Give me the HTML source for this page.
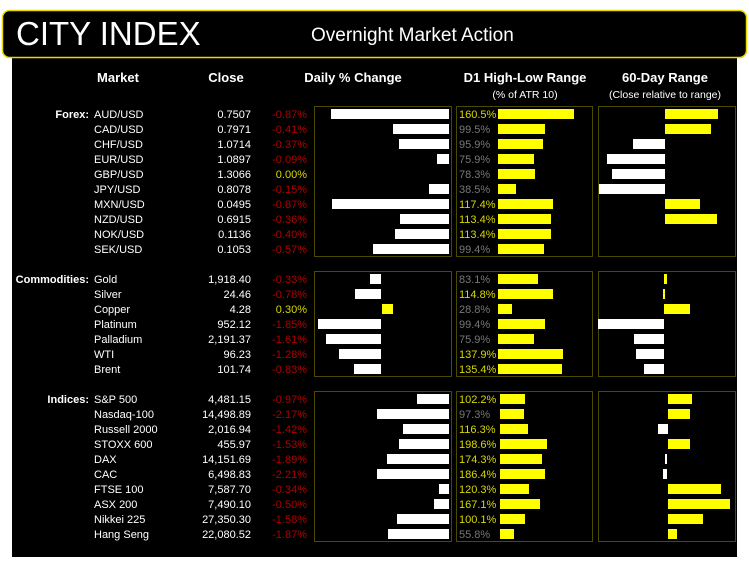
<!DOCTYPE html>
<html><head><meta charset="utf-8"><style>
html,body{margin:0;padding:0;background:#fff;width:749px;height:568px;overflow:hidden}
svg{display:block;font-family:"Liberation Sans",sans-serif}
.t{fill:#fff;font-size:11px}
.b{fill:#fff;font-size:11px;font-weight:bold}
.r{fill:#b00000;font-size:11px}
.y{fill:#d8d800;font-size:11px}
.g{fill:#777;font-size:11px}
.h{fill:#fff;font-size:13px;font-weight:bold}
.s{fill:#fff;font-size:10.5px}
</style></head><body>
<svg width="749" height="568" xmlns="http://www.w3.org/2000/svg">
<rect x="12" y="56" width="725" height="501" fill="#000"/>
<rect x="2.5" y="10.5" width="744" height="47" rx="7" fill="#000" stroke="#e6d800" stroke-width="1.5"/>
<text x="16" y="45" fill="#fff" font-size="33" style="font-weight:300">CITY INDEX</text>
<text x="311" y="41" fill="#fff" font-size="19">Overnight Market Action</text>

<text class="h" x="118" y="82" text-anchor="middle">Market</text>
<text class="h" x="226" y="82" text-anchor="middle">Close</text>
<text class="h" x="353" y="82" text-anchor="middle">Daily % Change</text>
<text class="h" x="525" y="82" text-anchor="middle">D1 High-Low Range</text>
<text class="s" x="525" y="98" text-anchor="middle">(% of ATR 10)</text>
<text class="h" x="665" y="82" text-anchor="middle">60-Day Range</text>
<text class="s" x="665" y="98" text-anchor="middle">(Close relative to range)</text>

<g fill="none" stroke="#4d4a00" stroke-width="1">
<rect x="314.5" y="106.5" width="137" height="150"/>
<rect x="456.5" y="106.5" width="136" height="150"/>
<rect x="598.5" y="106.5" width="137" height="150"/>
<rect x="314.5" y="271.5" width="137" height="105"/>
<rect x="456.5" y="271.5" width="136" height="105"/>
<rect x="598.5" y="271.5" width="137" height="105"/>
<rect x="314.5" y="391.5" width="137" height="150"/>
<rect x="456.5" y="391.5" width="136" height="150"/>
<rect x="598.5" y="391.5" width="137" height="150"/>
</g>

<text class="b" x="89" y="118" text-anchor="end">Forex:</text>
<text class="b" x="89" y="283" text-anchor="end">Commodities:</text>
<text class="b" x="89" y="403" text-anchor="end">Indices:</text>

<g id="names">
<text class="t" x="94" y="118">AUD/USD</text>
<text class="t" x="94" y="133">CAD/USD</text>
<text class="t" x="94" y="148">CHF/USD</text>
<text class="t" x="94" y="163">EUR/USD</text>
<text class="t" x="94" y="178">GBP/USD</text>
<text class="t" x="94" y="193">JPY/USD</text>
<text class="t" x="94" y="208">MXN/USD</text>
<text class="t" x="94" y="223">NZD/USD</text>
<text class="t" x="94" y="238">NOK/USD</text>
<text class="t" x="94" y="253">SEK/USD</text>
<text class="t" x="94" y="283">Gold</text>
<text class="t" x="94" y="298">Silver</text>
<text class="t" x="94" y="313">Copper</text>
<text class="t" x="94" y="328">Platinum</text>
<text class="t" x="94" y="343">Palladium</text>
<text class="t" x="94" y="358">WTI</text>
<text class="t" x="94" y="373">Brent</text>
<text class="t" x="94" y="403">S&amp;P 500</text>
<text class="t" x="94" y="418">Nasdaq-100</text>
<text class="t" x="94" y="433">Russell 2000</text>
<text class="t" x="94" y="448">STOXX 600</text>
<text class="t" x="94" y="463">DAX</text>
<text class="t" x="94" y="478">CAC</text>
<text class="t" x="94" y="493">FTSE 100</text>
<text class="t" x="94" y="508">ASX 200</text>
<text class="t" x="94" y="523">Nikkei 225</text>
<text class="t" x="94" y="538">Hang Seng</text>
</g>
<g text-anchor="end">
<text class="t" x="251" y="118">0.7507</text>
<text class="t" x="251" y="133">0.7971</text>
<text class="t" x="251" y="148">1.0714</text>
<text class="t" x="251" y="163">1.0897</text>
<text class="t" x="251" y="178">1.3066</text>
<text class="t" x="251" y="193">0.8078</text>
<text class="t" x="251" y="208">0.0495</text>
<text class="t" x="251" y="223">0.6915</text>
<text class="t" x="251" y="238">0.1136</text>
<text class="t" x="251" y="253">0.1053</text>
<text class="t" x="251" y="283">1,918.40</text>
<text class="t" x="251" y="298">24.46</text>
<text class="t" x="251" y="313">4.28</text>
<text class="t" x="251" y="328">952.12</text>
<text class="t" x="251" y="343">2,191.37</text>
<text class="t" x="251" y="358">96.23</text>
<text class="t" x="251" y="373">101.74</text>
<text class="t" x="251" y="403">4,481.15</text>
<text class="t" x="251" y="418">14,498.89</text>
<text class="t" x="251" y="433">2,016.94</text>
<text class="t" x="251" y="448">455.97</text>
<text class="t" x="251" y="463">14,151.69</text>
<text class="t" x="251" y="478">6,498.83</text>
<text class="t" x="251" y="493">7,587.70</text>
<text class="t" x="251" y="508">7,490.10</text>
<text class="t" x="251" y="523">27,350.30</text>
<text class="t" x="251" y="538">22,080.52</text>

<text class="r" x="307" y="118">-0.87%</text>
<text class="r" x="307" y="133">-0.41%</text>
<text class="r" x="307" y="148">-0.37%</text>
<text class="r" x="307" y="163">-0.09%</text>
<text class="y" x="307" y="178">0.00%</text>
<text class="r" x="307" y="193">-0.15%</text>
<text class="r" x="307" y="208">-0.87%</text>
<text class="r" x="307" y="223">-0.36%</text>
<text class="r" x="307" y="238">-0.40%</text>
<text class="r" x="307" y="253">-0.57%</text>
<text class="r" x="307" y="283">-0.33%</text>
<text class="r" x="307" y="298">-0.78%</text>
<text class="y" x="307" y="313">0.30%</text>
<text class="r" x="307" y="328">-1.85%</text>
<text class="r" x="307" y="343">-1.61%</text>
<text class="r" x="307" y="358">-1.28%</text>
<text class="r" x="307" y="373">-0.83%</text>
<text class="r" x="307" y="403">-0.97%</text>
<text class="r" x="307" y="418">-2.17%</text>
<text class="r" x="307" y="433">-1.42%</text>
<text class="r" x="307" y="448">-1.53%</text>
<text class="r" x="307" y="463">-1.89%</text>
<text class="r" x="307" y="478">-2.21%</text>
<text class="r" x="307" y="493">-0.34%</text>
<text class="r" x="307" y="508">-0.50%</text>
<text class="r" x="307" y="523">-1.58%</text>
<text class="r" x="307" y="538">-1.87%</text>
</g>

<!-- daily bars -->
<g fill="#fff">
<rect x="331" y="109" width="118" height="10"/>
<rect x="393" y="124" width="56" height="10"/>
<rect x="399" y="139" width="50" height="10"/>
<rect x="437" y="154" width="12" height="10"/>
<rect x="429" y="184" width="20" height="10"/>
<rect x="332" y="199" width="117" height="10"/>
<rect x="400" y="214" width="49" height="10"/>
<rect x="395" y="229" width="54" height="10"/>
<rect x="373" y="244" width="76" height="10"/>
<rect x="370" y="274" width="11" height="10"/>
<rect x="355" y="289" width="26" height="10"/>
<rect x="318" y="319" width="63" height="10"/>
<rect x="326" y="334" width="55" height="10"/>
<rect x="339" y="349" width="42" height="10"/>
<rect x="354" y="364" width="27" height="10"/>
<rect x="417" y="394" width="32" height="10"/>
<rect x="377" y="409" width="72" height="10"/>
<rect x="403" y="424" width="46" height="10"/>
<rect x="399" y="439" width="50" height="10"/>
<rect x="387" y="454" width="62" height="10"/>
<rect x="377" y="469" width="72" height="10"/>
<rect x="439" y="484" width="10" height="10"/>
<rect x="434" y="499" width="15" height="10"/>
<rect x="397" y="514" width="52" height="10"/>
<rect x="388" y="529" width="61" height="10"/>
</g>
<rect x="382" y="304" width="11" height="10" fill="#ffff00"/>

<!-- D1 text -->
<g>
<text class="y" x="459" y="118">160.5%</text>
<text class="g" x="459" y="133">99.5%</text>
<text class="g" x="459" y="148">95.9%</text>
<text class="g" x="459" y="163">75.9%</text>
<text class="g" x="459" y="178">78.3%</text>
<text class="g" x="459" y="193">38.5%</text>
<text class="y" x="459" y="208">117.4%</text>
<text class="y" x="459" y="223">113.4%</text>
<text class="y" x="459" y="238">113.4%</text>
<text class="g" x="459" y="253">99.4%</text>
<text class="g" x="459" y="283">83.1%</text>
<text class="y" x="459" y="298">114.8%</text>
<text class="g" x="459" y="313">28.8%</text>
<text class="g" x="459" y="328">99.4%</text>
<text class="g" x="459" y="343">75.9%</text>
<text class="y" x="459" y="358">137.9%</text>
<text class="y" x="459" y="373">135.4%</text>
<text class="y" x="459" y="403">102.2%</text>
<text class="g" x="459" y="418">97.3%</text>
<text class="y" x="459" y="433">116.3%</text>
<text class="y" x="459" y="448">198.6%</text>
<text class="y" x="459" y="463">174.3%</text>
<text class="y" x="459" y="478">186.4%</text>
<text class="y" x="459" y="493">120.3%</text>
<text class="y" x="459" y="508">167.1%</text>
<text class="y" x="459" y="523">100.1%</text>
<text class="g" x="459" y="538">55.8%</text>
</g>
<g fill="#ffff00">
<rect x="498" y="109" width="76" height="10"/>
<rect x="498" y="124" width="47" height="10"/>
<rect x="498" y="139" width="45" height="10"/>
<rect x="498" y="154" width="36" height="10"/>
<rect x="498" y="169" width="37" height="10"/>
<rect x="498" y="184" width="18" height="10"/>
<rect x="498" y="199" width="55" height="10"/>
<rect x="498" y="214" width="53" height="10"/>
<rect x="498" y="229" width="53" height="10"/>
<rect x="498" y="244" width="46" height="10"/>
<rect x="498" y="274" width="40" height="10"/>
<rect x="498" y="289" width="55" height="10"/>
<rect x="498" y="304" width="14" height="10"/>
<rect x="498" y="319" width="47" height="10"/>
<rect x="498" y="334" width="36" height="10"/>
<rect x="498" y="349" width="65" height="10"/>
<rect x="498" y="364" width="64" height="10"/>
<rect x="500" y="394" width="25" height="10"/>
<rect x="500" y="409" width="24" height="10"/>
<rect x="500" y="424" width="28" height="10"/>
<rect x="500" y="439" width="47" height="10"/>
<rect x="500" y="454" width="42" height="10"/>
<rect x="500" y="469" width="45" height="10"/>
<rect x="500" y="484" width="29" height="10"/>
<rect x="500" y="499" width="40" height="10"/>
<rect x="500" y="514" width="25" height="10"/>
<rect x="500" y="529" width="14" height="10"/>
</g>

<!-- 60 day -->
<g fill="#ffff00">
<rect x="665" y="109" width="53" height="10"/>
<rect x="665" y="124" width="46" height="10"/>
<rect x="665" y="199" width="35" height="10"/>
<rect x="665" y="214" width="52" height="10"/>
<rect x="664" y="274" width="3" height="10"/>
<rect x="663" y="289" width="2" height="10"/>
<rect x="664" y="304" width="26" height="10"/>
<rect x="668" y="394" width="24" height="10"/>
<rect x="668" y="409" width="22" height="10"/>
<rect x="668" y="439" width="22" height="10"/>
<rect x="668" y="484" width="53" height="10"/>
<rect x="668" y="499" width="62" height="10"/>
<rect x="668" y="514" width="35" height="10"/>
<rect x="668" y="529" width="9" height="10"/>
</g>
<g fill="#fff">
<rect x="633" y="139" width="32" height="10"/>
<rect x="607" y="154" width="58" height="10"/>
<rect x="612" y="169" width="53" height="10"/>
<rect x="599" y="184" width="66" height="10"/>
<rect x="598" y="319" width="66" height="10"/>
<rect x="634" y="334" width="30" height="10"/>
<rect x="636" y="349" width="28" height="10"/>
<rect x="644" y="364" width="20" height="10"/>
<rect x="658" y="424" width="10" height="10"/>
<rect x="665" y="454" width="2" height="10"/>
<rect x="663" y="469" width="4" height="10"/>
</g>
</svg>
</body></html>
